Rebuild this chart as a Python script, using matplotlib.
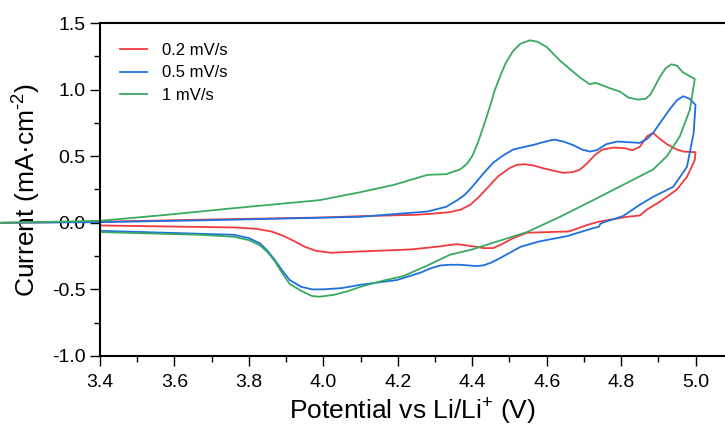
import matplotlib
matplotlib.use("Agg")
import matplotlib.pyplot as plt
from matplotlib.ticker import MultipleLocator

plt.rcParams['font.family'] = ['Liberation Sans', 'DejaVu Sans']
plt.rcParams['mathtext.fontset'] = 'custom'
plt.rcParams['mathtext.rm'] = 'Liberation Sans'
plt.rcParams['mathtext.default'] = 'regular'

labels = ["0.2 mV/s", "0.5 mV/s", "1 mV/s"]
colors = ["#F03A3E", "#1E6FE0", "#3AA962"]

# 0.2 mV/s: anodic sweep then cathodic sweep
red_x = [3.13, 3.4, 3.7, 4.0, 4.1, 4.25, 4.30, 4.34, 4.37, 4.395, 4.42, 4.44, 4.47, 4.50, 4.52,
         4.54, 4.565, 4.59, 4.62, 4.645, 4.67, 4.69, 4.71, 4.73, 4.75, 4.78, 4.81, 4.83, 4.85,
         4.87, 4.886, 4.90, 4.923, 4.95, 4.967, 5.0,
         4.998, 4.977, 4.95, 4.905, 4.87, 4.85, 4.816, 4.743, 4.71, 4.66, 4.60, 4.547, 4.51,
         4.48, 4.456, 4.43, 4.41, 4.385, 4.36, 4.33, 4.305, 4.235, 4.1, 4.06, 4.02, 3.98, 3.95,
         3.92, 3.89, 3.86, 3.82, 3.76, 3.4]
red_y = [0.0, 0.008, 0.025, 0.04, 0.05, 0.06, 0.07, 0.08, 0.10, 0.135, 0.20, 0.26, 0.35, 0.41, 0.435,
         0.44, 0.43, 0.41, 0.39, 0.375, 0.38, 0.40, 0.45, 0.51, 0.55, 0.565, 0.56, 0.545, 0.57,
         0.65, 0.675, 0.64, 0.59, 0.55, 0.535, 0.53,
         0.47, 0.345, 0.25, 0.16, 0.10, 0.055, 0.045, 0.01, -0.015, -0.065, -0.07, -0.075, -0.115,
         -0.16, -0.19, -0.19, -0.18, -0.17, -0.16, -0.17, -0.18, -0.20, -0.215, -0.22, -0.225, -0.21, -0.18,
         -0.135, -0.095, -0.065, -0.045, -0.035, -0.02]

# 0.5 mV/s
blue_x = [3.14, 3.4, 3.7, 3.94, 4.1, 4.28, 4.33, 4.36, 4.38, 4.40, 4.43, 4.456, 4.48, 4.51, 4.54,
          4.565, 4.59, 4.62, 4.645, 4.67, 4.695, 4.716, 4.735, 4.76, 4.79, 4.82, 4.85, 4.87,
          4.886, 4.91, 4.93, 4.95, 4.967, 4.985, 5.0,
          4.995, 4.977, 4.94, 4.886, 4.85, 4.805, 4.76, 4.745, 4.74, 4.725, 4.655, 4.58, 4.53,
          4.475, 4.45, 4.43, 4.41, 4.39, 4.367, 4.34, 4.315, 4.29, 4.26, 4.197, 4.10, 4.05, 4.0,
          3.97, 3.94, 3.91, 3.89, 3.87, 3.85, 3.83, 3.80, 3.76, 3.4]
blue_y = [0.0, 0.005, 0.02, 0.035, 0.045, 0.085, 0.12, 0.17, 0.21, 0.27, 0.37, 0.45, 0.50, 0.55, 0.57,
          0.585, 0.605, 0.625, 0.61, 0.585, 0.55, 0.535, 0.545, 0.59, 0.61, 0.605, 0.60, 0.63,
          0.675, 0.77, 0.85, 0.92, 0.95, 0.93, 0.885,
          0.675, 0.42, 0.27, 0.195, 0.135, 0.05, 0.01, -0.005, -0.03, -0.04, -0.10, -0.14, -0.18,
          -0.265, -0.30, -0.32, -0.325, -0.32, -0.315, -0.315, -0.32, -0.34, -0.375, -0.43, -0.465, -0.49, -0.50,
          -0.50, -0.48, -0.43, -0.36, -0.28, -0.21, -0.155, -0.115, -0.09, -0.06]

# 1 mV/s
green_x = [3.13, 3.4, 3.58, 3.76, 3.99, 4.1, 4.19, 4.28, 4.33, 4.367, 4.385, 4.40, 4.415, 4.43,
           4.445, 4.46, 4.475, 4.49, 4.51, 4.53, 4.555, 4.575, 4.60, 4.635, 4.66, 4.69, 4.716,
           4.73, 4.743, 4.77, 4.797, 4.82, 4.845, 4.865, 4.878, 4.89, 4.905, 4.92, 4.935, 4.95,
           4.966, 4.985, 4.998,
           4.985, 4.958, 4.923, 4.886, 4.816, 4.725, 4.636, 4.547, 4.456, 4.40, 4.34, 4.28, 4.215,
           4.16, 4.10, 4.07, 4.03, 3.99, 3.97, 3.94, 3.91, 3.89, 3.87, 3.85, 3.83, 3.80, 3.76,
           3.67, 3.4]
green_y = [0.0, 0.015, 0.06, 0.11, 0.17, 0.23, 0.285, 0.36, 0.365, 0.40, 0.44, 0.50, 0.60, 0.72,
           0.85, 0.99, 1.10, 1.20, 1.29, 1.345, 1.37, 1.36, 1.32, 1.22, 1.16, 1.09, 1.04,
           1.05, 1.04, 1.01, 0.985, 0.94, 0.925, 0.93, 0.96, 1.02, 1.10, 1.16, 1.19, 1.18,
           1.13, 1.10, 1.08,
           0.85, 0.65, 0.50, 0.40, 0.30, 0.17, 0.045, -0.07, -0.15, -0.20, -0.24, -0.32, -0.40,
           -0.435, -0.48, -0.51, -0.54, -0.555, -0.55, -0.51, -0.46, -0.38, -0.29, -0.22, -0.17, -0.13, -0.105,
           -0.09, -0.07]

xticks = [3.4, 3.6, 3.8, 4.0, 4.2, 4.4, 4.6, 4.8, 5.0]
yticks = [-1.0, -0.5, 0.0, 0.5, 1.0, 1.5]

fig = plt.figure(figsize=(7.25, 4.29), dpi=100)
ax = fig.add_axes([100 / 725, 1 - 356 / 429, 625 / 725, 333 / 429])

series = [(red_x, red_y), (blue_x, blue_y), (green_x, green_y)]
for (xs, ys), c, lab in zip(series, colors, labels):
    ax.plot(xs, ys, color=c, lw=1.3, label=lab, clip_on=False, solid_joinstyle='round')

ax.set_xlim(3.4, 3.4 + 625 / 372.2)
ax.set_ylim(-1.0, 1.5)
ax.set_xticks(xticks)
ax.set_xticklabels([f"{t:.1f}" for t in xticks])
ax.set_yticks(yticks)
ax.set_yticklabels([f"{t:.1f}" for t in yticks])
ax.xaxis.set_minor_locator(MultipleLocator(0.1))
ax.yaxis.set_minor_locator(MultipleLocator(0.25))
ax.tick_params(which='major', direction='out', length=7, width=1.0, labelsize=14)
ax.tick_params(axis='x', which='major', pad=6)
ax.tick_params(which='minor', direction='out', length=4, width=1.0)
ax.tick_params(top=False, right=False)
ax.spines['right'].set_visible(False)
for s in ['left', 'bottom', 'top']:
    ax.spines[s].set_linewidth(1.5)

ax.set_xlabel(r"Potential vs Li/Li$^{+}$ (V)", fontsize=19, labelpad=4)
ax.set_ylabel(r"Current (mA·cm$^{\text{-}2}$)", fontsize=19, labelpad=6)

ax.legend(loc='upper left', bbox_to_anchor=(0.0, 1.0), frameon=False, fontsize=12,
          handlelength=1.6, handletextpad=0.9, labelspacing=0.45, borderaxespad=0.8)

fig.savefig("out.png", dpi=100)
